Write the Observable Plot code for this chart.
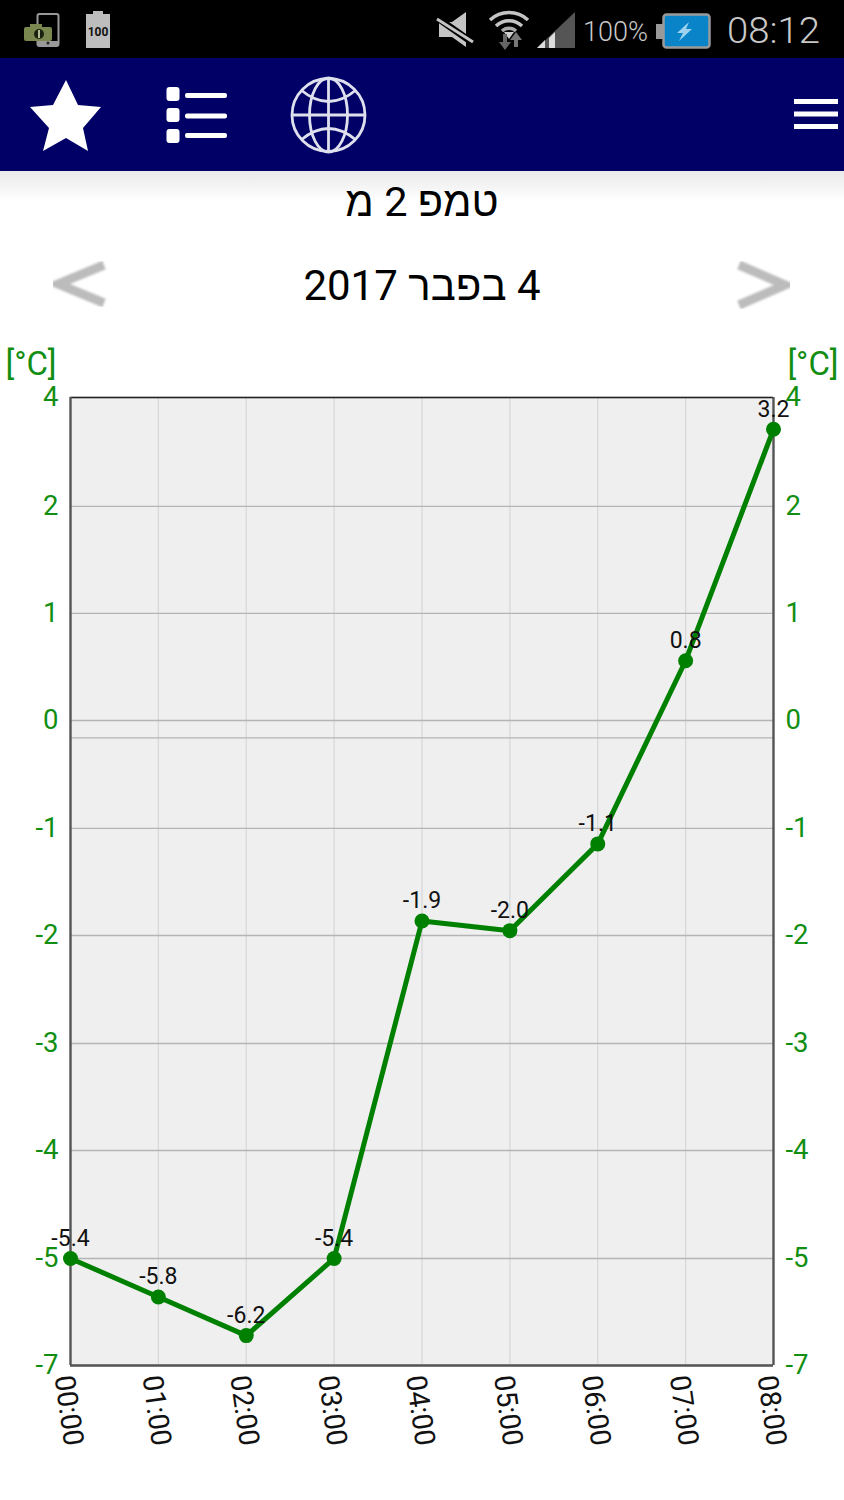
<!DOCTYPE html>
<html lang="he">
<head>
<meta charset="utf-8">
<script src="https://cdn.jsdelivr.net/npm/d3@7"></script>
<script src="https://cdn.jsdelivr.net/npm/@observablehq/plot@0.6"></script>
<style>
  html,body{margin:0;padding:0;background:#fff;}
  #page{width:844px;position:relative;overflow:hidden;}
  #head{position:relative;width:844px;height:340px;}
  #chrome{position:absolute;left:0;top:0;}
  .ttl{position:absolute;left:0;width:844px;text-align:center;direction:rtl;color:#000;
       font-family:Roboto,"Liberation Sans",sans-serif;line-height:1;white-space:nowrap;}
  #chart svg{display:block;background:transparent;}
</style>
</head>
<body>
<div id="page">
  <div id="head">
    <svg id="chrome" width="844" height="340" xmlns="http://www.w3.org/2000/svg">
      <defs>
        <linearGradient id="sh" x1="0" y1="0" x2="0" y2="1">
          <stop offset="0" stop-color="#e9e9e9"/><stop offset="1" stop-color="#fff"/>
        </linearGradient>
        <filter id="b"><feGaussianBlur stdDeviation="0.9"/></filter>
        <filter id="s"><feGaussianBlur stdDeviation="0.5"/></filter>
      </defs>
      <rect width="844" height="58" fill="#000"/>
      <rect y="58" width="844" height="113" fill="#000066"/>
      <rect y="171" width="844" height="30" fill="url(#sh)"/>
      <!-- status bar, left -->
      <rect x="37.500" y="14" width="21" height="32" rx="2" fill="#000" stroke="#999" stroke-width="2"/>
      <rect x="24" y="27" width="28" height="14" rx="2" fill="#7a8850"/>
      <rect x="30" y="24" width="12" height="4" fill="#7a8850"/>
      <circle cx="39" cy="34" r="5" fill="#1c2010"/><rect x="38" y="30" width="2" height="8" fill="#b5bd95"/>
      <rect x="37" y="41" width="21" height="5" fill="#999"/><circle cx="48" cy="43" r="1.500" fill="#222"/>
      <rect x="93" y="11" width="10" height="4" fill="#bbb"/>
      <rect x="86" y="14" width="24" height="34" fill="#bdbdbd"/>
      <text x="98" y="36" text-anchor="middle" font-family="Roboto,sans-serif" font-weight="700" font-size="12" fill="#111">100</text>
      <!-- status bar, right -->
      <polygon points="439,22 452,22 466,12 466,47 452,37 439,37" fill="#c4c4c4"/>
      <line x1="436" y1="17" x2="473" y2="43" stroke="#000" stroke-width="7"/>
      <line x1="437" y1="19" x2="473" y2="42" stroke="#c4c4c4" stroke-width="3"/>
      <g fill="none" stroke="#c4c4c4" stroke-width="3.500">
        <path d="M490,20 A28,28 0 0 1 528,20"/>
        <path d="M496,26 A19,19 0 0 1 522,26"/>
        <path d="M502,31 A10,10 0 0 1 516,31" stroke="#aaa"/>
      </g>
      <polygon points="509,39 504,32 514,32" fill="#ccc"/>
      <polygon points="505,50 499,42 503,42 503,34 507,34 507,42 511,42" fill="#666"/>
      <polygon points="516,32 522,40 518,40 518,47 514,47 514,40 510,40" fill="#777"/>
      <polygon points="537,48 575,48 575,12" fill="#555"/>
      <polygon points="537,48 545,48 545,40" fill="#ddd"/>
      <polygon points="549,48 555,48 555,32 549,38" fill="#ddd"/>
      <text x="583" y="41" font-family="Roboto,sans-serif" font-weight="300" font-size="27" textLength="65" lengthAdjust="spacingAndGlyphs" fill="#c8c8c8">100%</text>
      <rect x="656" y="24" width="7" height="15" fill="#999"/>
      <rect x="663.500" y="14.500" width="46" height="33" rx="3" fill="#0a84c8" stroke="#9a9a9a" stroke-width="2.500"/>
      <polygon points="689,22 677,33 683,33 679,41 692,29 686,29" fill="#9fd2ee"/>
      <text x="727" y="43" font-family="Roboto,sans-serif" font-weight="300" font-size="36" textLength="93" lengthAdjust="spacingAndGlyphs" fill="#c8c8c8">08:12</text>
      <!-- nav bar -->
      <polygon points="66,80 78,105 101,107 83,128 88,151 66,138 43,151 49,128 30,107 53,105" fill="#fff" filter="url(#s)"/>
      <g fill="#fff">
        <rect x="166.500" y="87" width="13" height="14" rx="3"/>
        <rect x="166.500" y="108" width="13" height="14" rx="3"/>
        <rect x="166.500" y="129" width="13" height="14" rx="3"/>
        <rect x="185" y="93" width="42" height="5" rx="2"/>
        <rect x="185" y="113.500" width="42" height="5" rx="2"/>
        <rect x="185" y="133" width="42" height="5" rx="2"/>
        <rect x="794" y="99" width="44" height="5"/>
        <rect x="794" y="111.500" width="44" height="5"/>
        <rect x="794" y="124" width="44" height="5"/>
      </g>
      <g fill="none" stroke="#dfe0ee" stroke-width="2.800" filter="url(#s)">
        <circle cx="328.500" cy="115" r="36.500"/>
        <ellipse cx="328.500" cy="115" rx="19" ry="37"/>
        <line x1="328.500" y1="78" x2="328.500" y2="152"/>
        <line x1="291.500" y1="115" x2="365.500" y2="115"/>
        <path d="M301,90 Q328.500,113 356,90"/>
        <path d="M301,140 Q328.500,117 356,140"/>
      </g>
      <!-- date arrows -->
      <polyline points="104,265 58,284 104,303" fill="none" stroke="#bcbcbc" stroke-width="9" filter="url(#b)"/>
      <polyline points="739,265 785,285 739,305" fill="none" stroke="#bcbcbc" stroke-width="9" filter="url(#b)"/>
    </svg>
    <div class="ttl" id="t1" style="top:181px;font-size:41.500px;"></div>
    <div class="ttl" id="t2" style="top:265px;font-size:42px;"></div>
  </div>
  <div id="chart"></div>
</div>
<script>
const titleText = "טמפ 2 מ";
const dateText = "4 בפבר 2017";
const unitLabel = "[°C]";
const hours = ["00:00","01:00","02:00","03:00","04:00","05:00","06:00","07:00","08:00"];
const temps = [-5.4,-5.8,-6.2,-5.4,-1.9,-2.0,-1.1,0.8,3.2];
const tempLabels = ["-5.4","-5.8","-6.2","-5.4","-1.9","-2.0","-1.1","0.8","3.2"];
const yDomain = [-6.51,3.53];
const yTickValues = [-6.51,-5.4,-4.28,-3.17,-2.05,-0.94,0.18,1.29,2.40,3.53];
const yTickLabels = ["-7","-5","-4","-3","-2","-1","0","1","2","4"];
const zeroLine = [0];

const GREEN = "#008000", AXIS = "#128e12";
const FONT = "Roboto, sans-serif";
document.getElementById("t1").textContent = titleText;
document.getElementById("t2").textContent = dateText;

const rows = hours.map((h,i)=>({hour:h,temp:temps[i],label:tempLabels[i]}));
const yFmt = d => yTickLabels[yTickValues.indexOf(d)];

const plot = Plot.plot({
  width:844, height:1125,
  marginLeft:70, marginRight:71, marginTop:57, marginBottom:100,
  style:{fontFamily:FONT, background:"transparent", overflow:"visible"},
  x:{type:"point", domain:hours, padding:0, round:false},
  y:{domain:yDomain},
  marks:[
    Plot.frame({fill:"#efefef", stroke:null}),
    Plot.ruleX(hours,{stroke:"#d6d6d6", strokeWidth:1.2}),
    Plot.ruleY(yTickValues,{stroke:"#b4b4b4", strokeWidth:1.3}),
    Plot.ruleY(zeroLine,{stroke:"#b4b4b4", strokeWidth:1.3}),
    Plot.ruleY([yDomain[1]],{stroke:"#222", strokeWidth:1.6}),
    Plot.ruleY([yDomain[0]],{stroke:"#555", strokeWidth:2.4}),
    Plot.ruleX([hours[0]],{stroke:"#555", strokeWidth:2.4}),
    Plot.ruleX([hours[hours.length-1]],{stroke:"#555", strokeWidth:2.4}),
    Plot.axisY({anchor:"left", ticks:yTickValues, tickFormat:yFmt, tickSize:0, tickPadding:12, label:null,
      fontSize:27.5, fontWeight:400, fill:AXIS}),
    Plot.axisY({anchor:"right", ticks:yTickValues, tickFormat:yFmt, tickSize:0, tickPadding:12, label:null,
      fontSize:27.5, fontWeight:400, fill:AXIS}),
    Plot.axisX({anchor:"bottom", tickSize:0, tickPadding:45, tickRotate:82, textAnchor:"middle", label:null,
      dx:-2, fontSize:28.5, fontWeight:400, fill:"#111"}),
    Plot.line(rows,{x:"hour", y:"temp", stroke:GREEN, strokeWidth:5, curve:"linear"}),
    Plot.dot(rows,{x:"hour", y:"temp", r:7.5, fill:GREEN}),
    Plot.text(rows,{x:"hour", y:"temp", text:"label", dy:-20, fontSize:23, fill:"#111", textAnchor:"middle"}),
    Plot.text([unitLabel],{frameAnchor:"top-left", dx:-65, dy:-33, lineAnchor:"middle", textAnchor:"start", fontSize:33, fontWeight:400, fill:AXIS}),
    Plot.text([unitLabel],{frameAnchor:"top-right", dx:65, dy:-33, lineAnchor:"middle", textAnchor:"end", fontSize:33, fontWeight:400, fill:AXIS})
  ]
});
document.getElementById("chart").appendChild(plot);
</script>
</body>
</html>
